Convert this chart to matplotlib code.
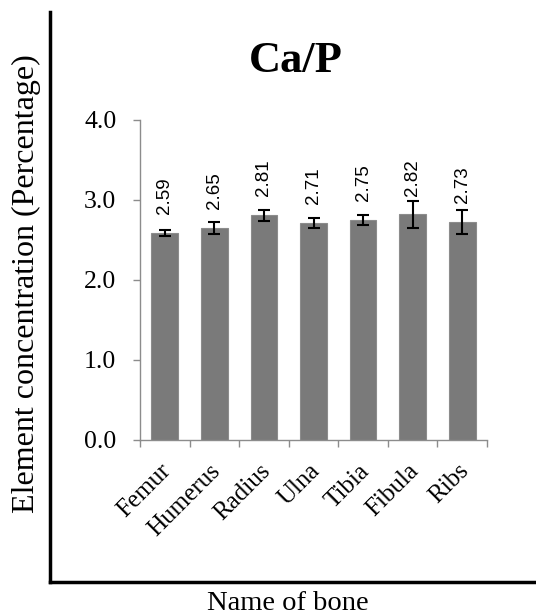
import numpy as np
import matplotlib
matplotlib.use('Agg')
import matplotlib.pyplot as plt
from matplotlib.transforms import ScaledTranslation

# --- data ---
bones = ['Femur', 'Humerus', 'Radius', 'Ulna', 'Tibia', 'Fibula', 'Ribs']
ca_p = [2.59, 2.65, 2.81, 2.71, 2.75, 2.82, 2.73]
ca_p_err = [0.04, 0.07, 0.07, 0.06, 0.06, 0.17, 0.15]
y_ticks = [0.0, 1.0, 2.0, 3.0, 4.0]

serif = ['Liberation Serif', 'DejaVu Serif']

W, H = 536, 615
fig = plt.figure(figsize=(W / 100, H / 100), dpi=100)

# outer frame (left + bottom thick black lines) carrying the axis titles
ax_out = fig.add_axes([50 / W, (H - 582) / H, (W - 50) / W + 0.01, (582 - 12) / H])
ax_out.set_xticks([])
ax_out.set_yticks([])
ax_out.patch.set_alpha(0)
for s in ['top', 'right']:
    ax_out.spines[s].set_visible(False)
for s in ['left', 'bottom']:
    ax_out.spines[s].set_linewidth(2.5)
ax_out.set_xlim(0, 1)
ax_out.set_ylim(0, 1)
fig.text(288 / W, 1 - 603 / H, 'Name of bone', family=serif, fontsize=20.5,
         ha='center', va='center')
fig.text(26 / W, 1 - 284 / H, 'Element concentration (Percentage)', family=serif,
         fontsize=23, rotation=90, ha='center', va='center')

# title
fig.text(296 / W, 1 - 61 / H, 'Ca/P', family=serif, fontsize=32,
         fontweight='bold', ha='center', va='center')

# inner bar chart
ax = fig.add_axes([140 / W, (H - 440) / H, 347 / W, 320 / H])
x = np.arange(len(bones))
ax.bar(x, ca_p, width=0.54, color='#7a7a7a', edgecolor='#8c8c8c', linewidth=0.8,
       zorder=2)
ax.errorbar(x, ca_p, yerr=ca_p_err, fmt='none', ecolor='black', elinewidth=1.5,
            capsize=4.5, capthick=1.5, zorder=3)

for xi, v in zip(x, ca_p):
    ax.annotate(f'{v:.2f}', (xi, v), xytext=(0, 13.5), textcoords='offset points',
                rotation=90, ha='center', va='bottom',
                family=['Liberation Sans', 'DejaVu Sans'], fontsize=13.5)

ax.set_xlim(-0.5, len(bones) - 0.5)
ax.set_ylim(0, 4.0)
ax.set_yticks(y_ticks)
ax.set_yticklabels([f'{t:.1f}' for t in y_ticks], family=serif, fontsize=18.5)
ax.tick_params(axis='y', direction='out', length=5, width=1, color='#8c8c8c', pad=12)

ax.set_xticks(np.arange(-0.5, len(bones)), minor=True)
ax.set_xticks(x)
ax.set_xticklabels(bones, family=serif, fontsize=18, rotation=45,
                   ha='right', va='center', rotation_mode='anchor')
ax.tick_params(axis='x', which='major', length=0, pad=20)
ax.tick_params(axis='x', which='minor', direction='out', length=5, width=1,
               color='#8c8c8c')
offset = ScaledTranslation(2 / 72, 0, fig.dpi_scale_trans)
for lab in ax.get_xticklabels():
    lab.set_transform(lab.get_transform() + offset)

for s in ['top', 'right']:
    ax.spines[s].set_visible(False)
for s in ['left', 'bottom']:
    ax.spines[s].set_color('#8c8c8c')
    ax.spines[s].set_linewidth(1)

fig.savefig('out.png', dpi=100)
